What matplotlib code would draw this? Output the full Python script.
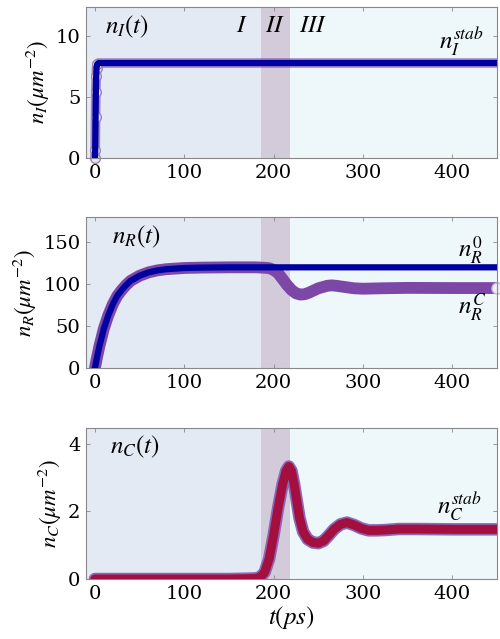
import numpy as np
import matplotlib.pyplot as plt

plt.rcParams['font.family'] = ['DejaVu Serif']
plt.rcParams['mathtext.fontset'] = 'stix'

# ---- data ----
t_I = [0, 0.3, 0.7, 1.0, 1.4, 1.8, 2.5, 4, 8, 20, 50, 100, 150, 200, 250, 300, 350, 400, 450]
n_I = [0, 0.67, 3.4, 5.4, 6.7, 7.4, 7.7, 7.8, 7.8, 7.8, 7.8, 7.8, 7.8, 7.8, 7.8, 7.8, 7.8, 7.8, 7.8]

t_R = [0, 2, 5, 10, 15, 20, 25, 30, 35, 40, 50, 60, 70, 80, 100, 120, 150, 180, 190, 195,
       200, 205, 210, 215, 220, 225, 230, 235, 240, 250, 260, 265, 270, 280, 290, 300,
       320, 350, 400, 450]
n_R_C = [0, 11, 26, 47, 63, 76, 86, 93, 99, 104, 110, 114, 116.4, 117.8, 119.2, 119.7, 120, 120,
         119.5, 119, 117, 113, 106, 99, 93, 89, 87.5, 88, 90, 95, 98, 98.5, 98, 96.5, 95,
         94.5, 95, 95.5, 95.3, 95.3]
t_R0 = [0, 2, 5, 10, 15, 20, 25, 30, 35, 40, 50, 60, 70, 80, 100, 120, 150, 180, 250, 350, 450]
n_R0 = [0, 11, 26, 47, 63, 76, 86, 93, 99, 104, 110, 114, 116.4, 117.8, 119.2, 119.7, 120, 120,
        120, 120, 120]

t_C = [0, 50, 100, 150, 170, 180, 185, 190, 195, 200, 205, 210, 214, 217, 220, 223, 226, 229,
       233, 238, 244, 250, 256, 262, 268, 275, 282, 290, 298, 306, 315, 325, 340, 360, 400, 450]
n_C = [0, 0, 0, 0, 0.01, 0.02, 0.05, 0.2, 0.6, 1.3, 2.1, 2.8, 3.2, 3.33, 3.2, 2.8, 2.3, 1.8,
       1.4, 1.18, 1.08, 1.06, 1.13, 1.3, 1.48, 1.62, 1.67, 1.6, 1.5, 1.44, 1.44, 1.45, 1.48,
       1.48, 1.47, 1.47]

# phase boundaries (ps)
t_phase = [-10, 185.7, 218, 450]
phase_colors = ['#e3eaf4', '#d4cbda', '#eef8fb']
phase_names = ['I', 'II', 'III']
phase_label_t = [165, 202, 244]

XLIM = (-10, 450)
BLUE = '#0000a0'
PURPLE = '#7d47a8'
RED = '#a3103f'
MFACE = '#e8e0ea'
MEDGE = '#9b86b5'
FS_NOTE = 18


def style_axis(ax, ylim, yticks):
    for i in range(3):
        ax.axvspan(t_phase[i], t_phase[i + 1], color=phase_colors[i], lw=0, zorder=0)
    ax.set_xlim(*XLIM)
    ax.set_ylim(*ylim)
    ax.set_xticks([0, 100, 200, 300, 400])
    ax.set_yticks(yticks)
    ax.tick_params(direction='in', top=True, right=True, length=3, width=0.6,
                   color='#888888', labelsize=14, pad=4)
    for s in ax.spines.values():
        s.set_color('#888888')
        s.set_linewidth(0.8)


fig = plt.figure(figsize=(5.0, 6.39), dpi=100)
L, W, H = 86 / 500, 411 / 500, 151 / 639
ax1 = fig.add_axes([L, 1 - 158 / 639, W, H])
ax2 = fig.add_axes([L, 1 - 368 / 639, W, H])
ax3 = fig.add_axes([L, 1 - 579 / 639, W, H])

# ---- panel 1: n_I ----
style_axis(ax1, (0, 12.4), [0, 5, 10])
ax1.plot(t_I, n_I, color=PURPLE, lw=7, alpha=0.6, zorder=2, solid_capstyle='butt')
ax1.plot(t_I[:7], n_I[:7], 'o', ms=7, mfc=MFACE, mec=MEDGE, mew=1.0, zorder=2.5,
         clip_on=False)
ax1.plot(t_I, n_I, color=BLUE, lw=4.5, zorder=3)
ax1.set_ylabel(r'$n_I(\mu m^{-2})$', fontsize=16.5, labelpad=3)
ax1.text(0.046, 0.87, r'$n_I(t)$', transform=ax1.transAxes, fontsize=FS_NOTE, va='center')
for name, tx in zip(phase_names, phase_label_t):
    ax1.text(tx, 10.9, r'$%s$' % name, fontsize=FS_NOTE, ha='center', va='center')
ax1.text(0.86, 0.77, r'$n_I^{stab}$', transform=ax1.transAxes, fontsize=FS_NOTE, va='center')

# ---- panel 2: n_R ----
style_axis(ax2, (0, 180), [0, 50, 100, 150])
ax2.plot(t_R, n_R_C, color=PURPLE, lw=8.5, zorder=2, solid_capstyle='round')
ax2.plot([t_R[-1]], [n_R_C[-1]], 'o', ms=8, mfc='#f2eef5', mec='#c8b8d8', zorder=2.2,
         clip_on=False)
ax2.plot(t_R0, n_R0, color=BLUE, lw=4.5, zorder=3)
ax2.set_ylabel(r'$n_R(\mu m^{-2})$', fontsize=16.5, labelpad=3)
ax2.text(0.063, 0.87, r'$n_R(t)$', transform=ax2.transAxes, fontsize=FS_NOTE, va='center')
ax2.text(0.905, 0.78, r'$n_R^0$', transform=ax2.transAxes, fontsize=FS_NOTE, va='center')
ax2.text(0.905, 0.40, r'$n_R^C$', transform=ax2.transAxes, fontsize=FS_NOTE, va='center')

# ---- panel 3: n_C ----
style_axis(ax3, (0, 4.47), [0, 2, 4])
ax3.plot(t_C, n_C, color='#8a6ab8', lw=9, zorder=2, solid_capstyle='round')
ax3.plot(t_C, n_C, color=RED, lw=6.5, zorder=3, solid_capstyle='round')
ax3.set_ylabel(r'$n_C(\mu m^{-2})$', fontsize=16.5, labelpad=3)
ax3.set_xlabel(r'$t(ps)$', fontsize=18, labelpad=1)
ax3.text(0.058, 0.874, r'$n_C(t)$', transform=ax3.transAxes, fontsize=FS_NOTE, va='center')
ax3.text(0.855, 0.48, r'$n_C^{stab}$', transform=ax3.transAxes, fontsize=FS_NOTE, va='center')

fig.savefig('out.png', dpi=100)
